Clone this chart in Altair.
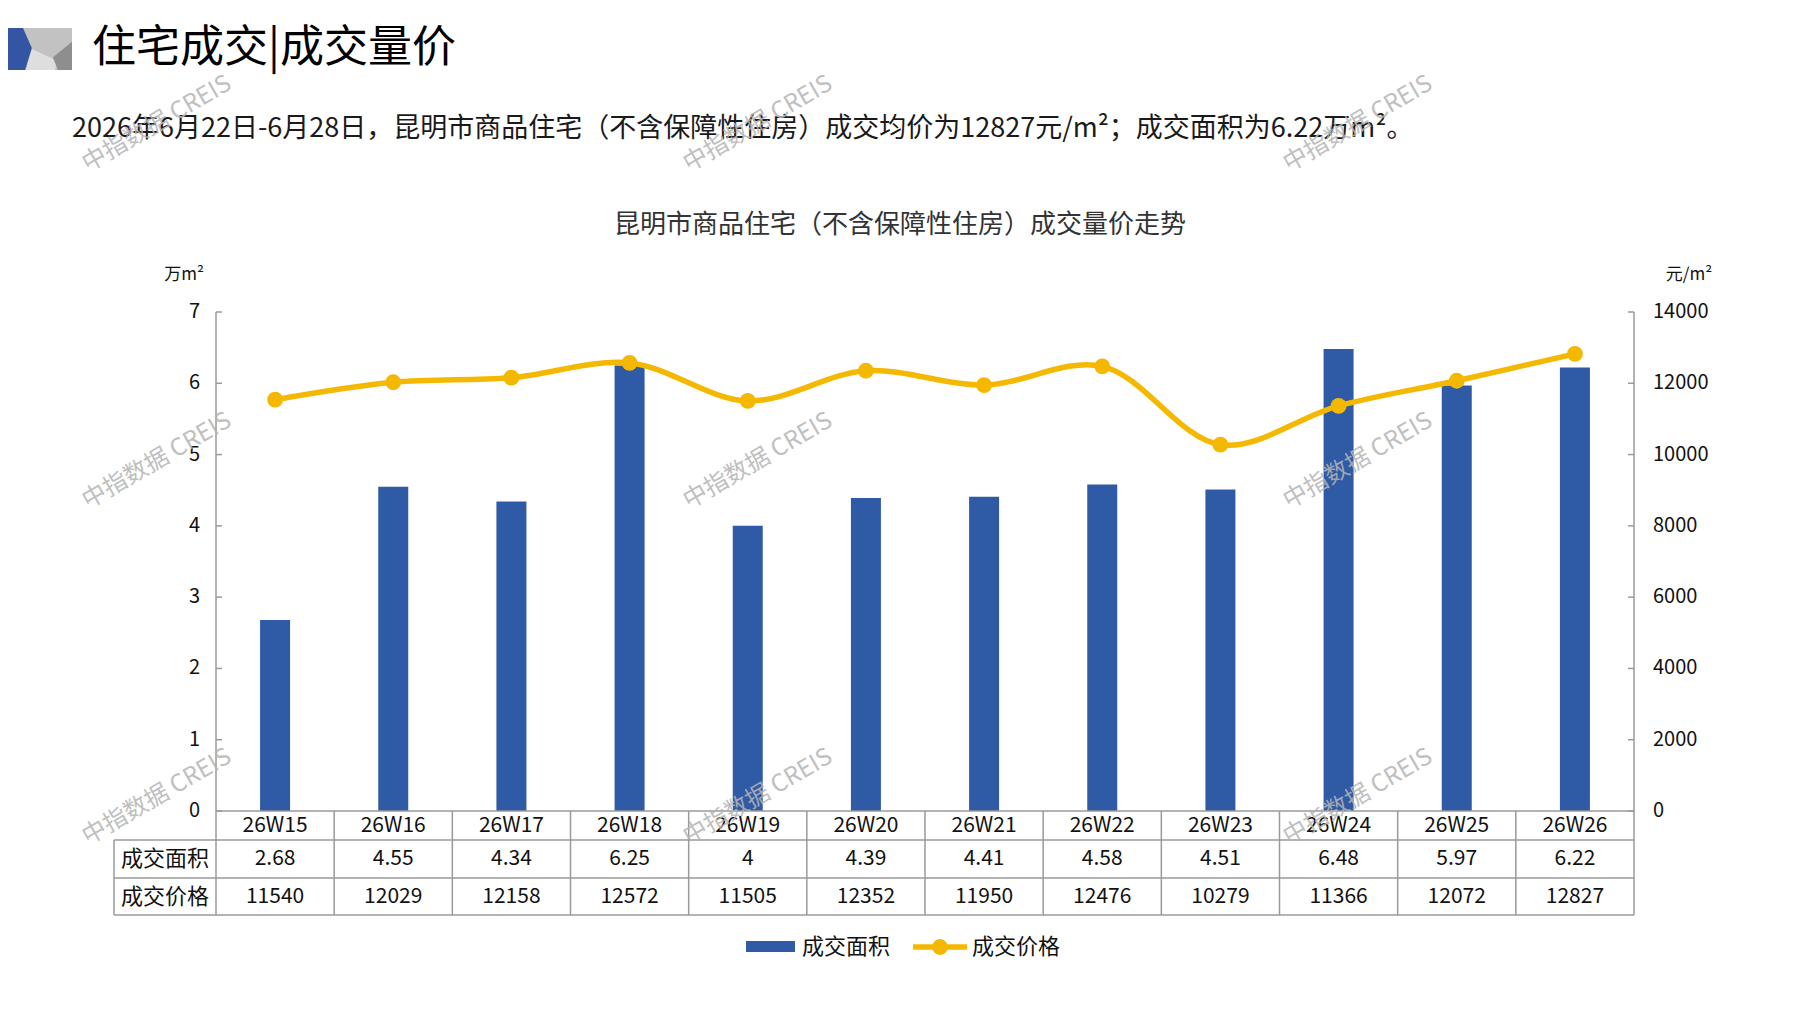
import altair as alt
import pandas as pd

# ---------------- data ----------------
weeks = ["26W15", "26W16", "26W17", "26W18", "26W19", "26W20",
         "26W21", "26W22", "26W23", "26W24", "26W25", "26W26"]
area = [2.68, 4.55, 4.34, 6.25, 4, 4.39, 4.41, 4.58, 4.51, 6.48, 5.97, 6.22]
price = [11540, 12029, 12158, 12572, 11505, 12352, 11950, 12476, 10279, 11366, 12072, 12827]
area_labels = ["2.68", "4.55", "4.34", "6.25", "4", "4.39", "4.41", "4.58", "4.51", "6.48", "5.97", "6.22"]
price_labels = ["11540", "12029", "12158", "12572", "11505", "12352", "11950", "12476", "10279", "11366", "12072", "12827"]
left_ticks = [0, 1, 2, 3, 4, 5, 6, 7]
right_ticks = [0, 2000, 4000, 6000, 8000, 10000, 12000, 14000]
series_names = ["成交面积", "成交价格"]

main_title = "住宅成交|成交量价"
subtitle = "2026年6月22日-6月28日，昆明市商品住宅（不含保障性住房）成交均价为12827元/m²；成交面积为6.22万m²。"
chart_title = "昆明市商品住宅（不含保障性住房）成交量价走势"
left_unit = "万m²"
right_unit = "元/m²"
watermark = "中指数据 CREIS"

# ---------------- style / layout ----------------
W, H = 1418, 499
FONT = "Noto Sans CJK SC"
BLUE = "#2F5AA6"
GOLD = "#F5B800"
GRID = "#9A9A9A"
TXT = "#111111"
ROW1, ROW2, ROW3 = H + 29, H + 67, H + 104   # table row bottoms
LEFT_EDGE = -102

df = pd.DataFrame({"week": weeks, "area": area, "price": price,
                   "area_label": area_labels, "price_label": price_labels})
one = pd.DataFrame({"a": [0]})

xenc = alt.X("week:N", sort=weeks,
             scale=alt.Scale(paddingInner=0, paddingOuter=0), axis=None)
yleft_scale = alt.Scale(domain=[0, 7], nice=False)
yright_scale = alt.Scale(domain=[0, 14000], nice=False)

# ---------------- left (area) layer ----------------
bars = alt.Chart(df).mark_bar(size=30, color=BLUE).encode(
    x=xenc, y=alt.Y("area:Q", scale=yleft_scale, axis=None))
ldf = pd.DataFrame({"v": left_ticks})
left_tick_rules = alt.Chart(ldf).mark_rule(color=GRID, strokeWidth=1.5).encode(
    y=alt.Y("v:Q", scale=yleft_scale, axis=None), x=alt.value(0), x2=alt.value(6))
left_labels = alt.Chart(ldf).mark_text(font=FONT, fontSize=20, color=TXT, align="right",
                                       baseline="middle").encode(
    y=alt.Y("v:Q", scale=yleft_scale, axis=None), x=alt.value(-16),
    text=alt.Text("v:Q", format="d"))
left_domain = alt.Chart(one).mark_rule(color=GRID, strokeWidth=1.5).encode(
    x=alt.value(0), y=alt.value(0), y2=alt.value(H))

left_layer = alt.layer(bars, left_tick_rules, left_labels, left_domain)

# ---------------- right (price) layer ----------------
line = alt.Chart(df).mark_line(color=GOLD, strokeWidth=5.5, interpolate="catmull-rom").encode(
    x=xenc, y=alt.Y("price:Q", scale=yright_scale, axis=None))
pts = alt.Chart(df).mark_circle(color=GOLD, size=250, opacity=1).encode(
    x=xenc, y=alt.Y("price:Q", scale=yright_scale, axis=None))
rdf = pd.DataFrame({"v": right_ticks})
right_tick_rules = alt.Chart(rdf).mark_rule(color=GRID, strokeWidth=1.5).encode(
    y=alt.Y("v:Q", scale=yright_scale, axis=None), x=alt.value(W - 6), x2=alt.value(W))
right_labels = alt.Chart(rdf).mark_text(font=FONT, fontSize=20, color=TXT, align="left",
                                        baseline="middle").encode(
    y=alt.Y("v:Q", scale=yright_scale, axis=None), x=alt.value(W + 19),
    text=alt.Text("v:Q", format="d"))
right_domain = alt.Chart(one).mark_rule(color=GRID, strokeWidth=1.5).encode(
    x=alt.value(W), y=alt.value(0), y2=alt.value(H))

right_layer = alt.layer(line, pts, right_tick_rules, right_labels, right_domain)

# ---------------- table ----------------
def text_row(field, ycenter):
    return alt.Chart(df).mark_text(font=FONT, fontSize=21, color=TXT, baseline="middle").encode(
        x=xenc, y=alt.value(ycenter), text=alt.Text(f"{field}:N"))

t_head = text_row("week", (H + ROW1) / 2)
t_area = text_row("area_label", (ROW1 + ROW2) / 2)
t_price = text_row("price_label", (ROW2 + ROW3) / 2)

row_lab1 = alt.Chart(one).mark_text(text=series_names[0], font=FONT, fontSize=22, color=TXT,
                                    baseline="middle").encode(
    x=alt.value(LEFT_EDGE / 2), y=alt.value((ROW1 + ROW2) / 2))
row_lab2 = alt.Chart(one).mark_text(text=series_names[1], font=FONT, fontSize=22, color=TXT,
                                    baseline="middle").encode(
    x=alt.value(LEFT_EDGE / 2), y=alt.value((ROW2 + ROW3) / 2))

vlines = alt.Chart(df).mark_rule(color=GRID, strokeWidth=1.5).encode(
    x=alt.X("week:N", sort=weeks, bandPosition=0,
            scale=alt.Scale(paddingInner=0, paddingOuter=0), axis=None),
    y=alt.value(H), y2=alt.value(ROW3))
vright = alt.Chart(one).mark_rule(color=GRID, strokeWidth=1.5).encode(
    x=alt.value(W), y=alt.value(H), y2=alt.value(ROW3))
vleft = alt.Chart(one).mark_rule(color=GRID, strokeWidth=1.5).encode(
    x=alt.value(LEFT_EDGE), y=alt.value(ROW1), y2=alt.value(ROW3))
hline0 = alt.Chart(one).mark_rule(color=GRID, strokeWidth=1.5).encode(
    x=alt.value(0), x2=alt.value(W), y=alt.value(H))
hline1 = alt.Chart(one).mark_rule(color=GRID, strokeWidth=1.5).encode(
    x=alt.value(LEFT_EDGE), x2=alt.value(W), y=alt.value(ROW1))
hline2 = alt.Chart(one).mark_rule(color=GRID, strokeWidth=1.5).encode(
    x=alt.value(LEFT_EDGE), x2=alt.value(W), y=alt.value(ROW2))
hline3 = alt.Chart(one).mark_rule(color=GRID, strokeWidth=1.5).encode(
    x=alt.value(LEFT_EDGE), x2=alt.value(W), y=alt.value(ROW3))

# ---------------- titles / units ----------------
def logo_piece(path, colour):
    return alt.Chart(one).mark_point(
        shape=path, filled=True, fill=colour, strokeWidth=0, size=1764, opacity=1).encode(
        x=alt.value(-180), y=alt.value(-263))

logo_bg = logo_piece("M-1.714,-1L1.714,-1L1.714,1L-1.714,1Z", "#C2C2C2")
logo_light = logo_piece("M-0.48,1L-0.2,0L1.0,0.55L0.9,1Z", "#DEDEDE")
logo_dark = logo_piece("M1.714,-0.35L0.8,0.4L1.05,1L1.714,1Z", "#8E8E8E")
logo_blue = logo_piece("M-1.714,-1L-0.62,-1L-0.2,-0.05L-0.52,1L-1.714,1Z", "#3454A4")

t_main = alt.Chart(one).mark_text(text=main_title, font=FONT, fontSize=44, color="#000000",
                                  align="left", baseline="middle").encode(
    x=alt.value(-124), y=alt.value(-263))
t_sub = alt.Chart(one).mark_text(text=subtitle, font=FONT, fontSize=27, color="#1a1a1a",
                                 align="left", baseline="middle").encode(
    x=alt.value(-144), y=alt.value(-183))
t_chart = alt.Chart(one).mark_text(text=chart_title, font=FONT, fontSize=26, color="#333333",
                                   align="center", baseline="middle").encode(
    x=alt.value(684), y=alt.value(-87))
t_lunit = alt.Chart(one).mark_text(text=left_unit, font=FONT, fontSize=17, color=TXT,
                                   align="center", baseline="middle").encode(
    x=alt.value(-32), y=alt.value(-37))
t_runit = alt.Chart(one).mark_text(text=right_unit, font=FONT, fontSize=17, color=TXT,
                                   align="center", baseline="middle").encode(
    x=alt.value(W + 55), y=alt.value(-37))

# ---------------- legend ----------------
LY = H + 136
leg_rect = alt.Chart(one).mark_rect(color=BLUE).encode(
    x=alt.value(530), x2=alt.value(579), y=alt.value(LY - 6), y2=alt.value(LY + 5))
leg_t1 = alt.Chart(one).mark_text(text=series_names[0], font=FONT, fontSize=22, color=TXT,
                                  align="left", baseline="middle").encode(
    x=alt.value(586), y=alt.value(LY))
leg_line = alt.Chart(one).mark_rule(color=GOLD, strokeWidth=5.5).encode(
    x=alt.value(697), x2=alt.value(751), y=alt.value(LY))
leg_dot = alt.Chart(one).mark_circle(color=GOLD, size=250, opacity=1).encode(
    x=alt.value(724), y=alt.value(LY))
leg_t2 = alt.Chart(one).mark_text(text=series_names[1], font=FONT, fontSize=22, color=TXT,
                                  align="left", baseline="middle").encode(
    x=alt.value(756), y=alt.value(LY))

# ---------------- watermarks ----------------
wm_x = [-59, 542, 1142]
wm_y = [-188, 149, 485]
wm_layers = []
for wy in wm_y:
    for wx in wm_x:
        wm_layers.append(alt.Chart(one).mark_text(
            text=watermark, font=FONT, fontSize=24, color="#B5B5B5", opacity=0.85,
            angle=330, align="center", baseline="middle").encode(
            x=alt.value(wx), y=alt.value(wy)))

deco = alt.layer(t_head, t_area, t_price, row_lab1, row_lab2,
                 vlines, vright, vleft, hline0, hline1, hline2, hline3,
                 logo_bg, logo_light, logo_dark, logo_blue,
                 t_main, t_sub, t_chart, t_lunit, t_runit,
                 leg_rect, leg_t1, leg_line, leg_dot, leg_t2, *wm_layers)

chart = alt.layer(left_layer, right_layer, deco).resolve_scale(y="independent").properties(
    width=W, height=H,
    autosize=alt.AutoSizeParams(type="none"),
    padding={"left": 208, "top": 304, "right": 140, "bottom": 180},
    background="white",
).configure_view(stroke=None)

chart.save("out.html", embed_options={"renderer": "svg", "actions": False})
